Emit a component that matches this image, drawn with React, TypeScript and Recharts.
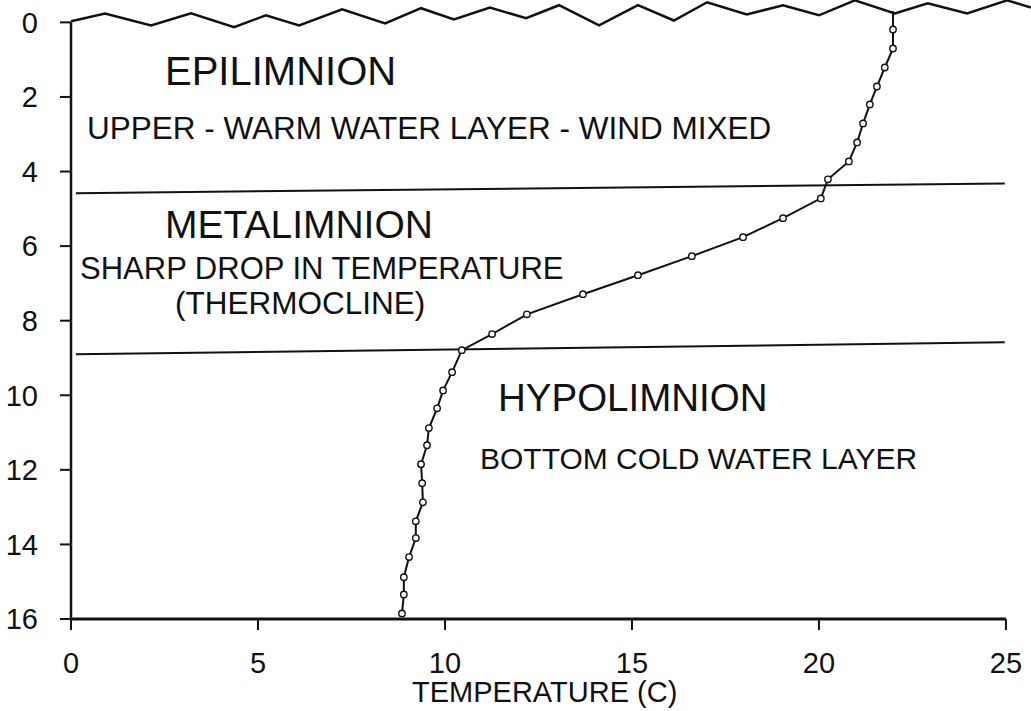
import React from 'react';
import { ComposedChart, Scatter, XAxis, YAxis, ReferenceLine } from 'recharts';

// Axis ticks
const xTicks = [0, 5, 10, 15, 20, 25];
const yTicks = [0, 2, 4, 6, 8, 10, 12, 14, 16];

// Temperature profile (temperature C, depth m)
const profileTemp = [21.98, 21.98, 21.98, 21.76, 21.55, 21.36, 21.18, 21.02, 20.8, 20.24, 20.05, 19.04, 17.97, 16.6, 15.16, 13.69, 12.19, 11.26, 10.45, 10.19, 9.95, 9.79, 9.57, 9.52, 9.36, 9.39, 9.41, 9.22, 9.22, 9.04, 8.9, 8.9, 8.85];
const profileDepth = [-0.3, 0.19, 0.7, 1.21, 1.72, 2.2, 2.71, 3.22, 3.73, 4.21, 4.72, 5.25, 5.76, 6.27, 6.78, 7.29, 7.83, 8.36, 8.79, 9.38, 9.87, 10.35, 10.88, 11.34, 11.85, 12.36, 12.87, 13.38, 13.83, 14.34, 14.88, 15.34, 15.85];

// Wavy water surface
const surfaceTemp = [0, 0.91, 2.14, 3.21, 4.36, 5.21, 6.1, 7.25, 8.4, 9.36, 10.24, 11.2, 12.17, 13.05, 14.12, 15.16, 16.12, 17.01, 18.07, 19.04, 20.0, 20.96, 22.03, 22.91, 23.96, 25.03, 25.67];
const surfaceDepth = [-0.03, -0.24, 0.08, -0.24, 0.13, -0.19, 0.08, -0.35, 0.03, -0.38, -0.08, -0.4, -0.11, -0.46, 0.08, -0.46, -0.05, -0.54, -0.21, -0.46, -0.19, -0.59, -0.24, -0.51, -0.24, -0.59, -0.4];

// Layer boundaries (start / end temperature, start / end depth)
const boundaryTemp = [0.13, 24.97];
const epiMetaDepth = [4.58, 4.32];
const metaHypoDepth = [8.9, 8.58];

const profile = profileTemp.map((t, i) => ({ temp: t, depth: profileDepth[i] }));
const markers = profile.slice(1);
const surface = surfaceTemp.map((t, i) => ({ temp: t, depth: surfaceDepth[i] }));

const FONT = '"Liberation Sans", Arial, Helvetica, sans-serif';
const INK = '#111';

const Marker = (props: any) => {
  const { cx, cy } = props;
  if (cx == null || cy == null) return <g />;
  return <circle cx={cx} cy={cy} r={3.2} fill="#fff" stroke={INK} strokeWidth={1.4} />;
};
const NoShape = () => <g />;

const labels = [
  { text: 'EPILIMNION', x: 165, cy: 71, size: 40 },
  { text: 'UPPER - WARM WATER LAYER - WIND MIXED', x: 87, cy: 128, size: 31.5 },
  { text: 'METALIMNION', x: 165, cy: 224, size: 39 },
  { text: 'SHARP DROP IN TEMPERATURE', x: 80, cy: 268, size: 31 },
  { text: '(THERMOCLINE)', x: 175, cy: 303, size: 31.5 },
  { text: 'HYPOLIMNION', x: 498, cy: 397, size: 38.5 },
  { text: 'BOTTOM COLD WATER LAYER', x: 480, cy: 458, size: 30 },
  { text: 'TEMPERATURE (C)', x: 412, cy: 692, size: 29 },
];

export default function App() {
  return (
    <div style={{ position: 'absolute', left: 0, top: 0, width: 1031, height: 711, background: '#fff' }}>
      <ComposedChart width={1031} height={711} margin={{ top: 0, right: 0, bottom: 0, left: 0 }}>
        <XAxis
          type="number"
          dataKey="temp"
          domain={[0, 25.67]}
          allowDataOverflow
          ticks={xTicks}
          height={92}
          axisLine={false}
          tickLine={{ stroke: INK, strokeWidth: 2 }}
          tickSize={11}
          tickMargin={22}
          tick={{ fill: INK, fontSize: 29, fontFamily: FONT }}
        />
        <YAxis
          type="number"
          dataKey="depth"
          domain={[-0.6, 16]}
          allowDataOverflow
          reversed
          ticks={yTicks}
          width={71}
          axisLine={false}
          tickLine={{ stroke: INK, strokeWidth: 2 }}
          tickSize={11}
          tickMargin={22}
          tick={{ fill: INK, fontSize: 29, fontFamily: FONT }}
        />
        <ReferenceLine segment={[{ x: 0, y: 0 }, { x: 0, y: 16 }]} stroke={INK} strokeWidth={2.5} ifOverflow="visible" />
        <ReferenceLine segment={[{ x: 0, y: 16 }, { x: 25, y: 16 }]} stroke={INK} strokeWidth={3} ifOverflow="visible" />
        <ReferenceLine
          segment={[{ x: boundaryTemp[0], y: epiMetaDepth[0] }, { x: boundaryTemp[1], y: epiMetaDepth[1] }]}
          stroke={INK}
          strokeWidth={2}
          ifOverflow="visible"
        />
        <ReferenceLine
          segment={[{ x: boundaryTemp[0], y: metaHypoDepth[0] }, { x: boundaryTemp[1], y: metaHypoDepth[1] }]}
          stroke={INK}
          strokeWidth={2}
          ifOverflow="visible"
        />
        <Scatter data={surface} line={{ stroke: INK, strokeWidth: 2.5 }} shape={NoShape} isAnimationActive={false} />
        <Scatter data={profile} line={{ stroke: INK, strokeWidth: 2 }} shape={NoShape} isAnimationActive={false} />
        <Scatter data={markers} shape={Marker} isAnimationActive={false} />
      </ComposedChart>
      <svg width={1031} height={711} style={{ position: 'absolute', left: 0, top: 0, pointerEvents: 'none' }}>
        {labels.map((l) => (
          <text key={l.text} x={l.x} y={l.cy + l.size * 0.358} fontSize={l.size} fontFamily={FONT} fill={INK}>
            {l.text}
          </text>
        ))}
      </svg>
    </div>
  );
}
